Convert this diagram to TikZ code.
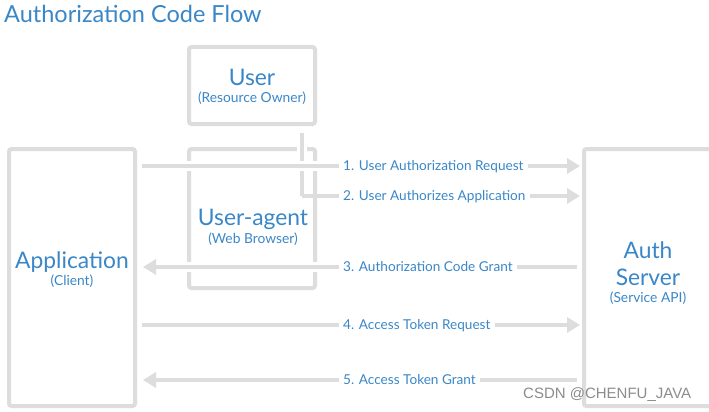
\documentclass[tikz,border=0pt]{standalone}
\usepackage{fontspec}
\setmainfont{Lato}
\newfontfamily\wmfont{Liberation Sans}
\usetikzlibrary{arrows.meta,calc}
\definecolor{linegray}{HTML}{DDDDDD}
\definecolor{txtblue}{HTML}{3A87C8}
\definecolor{wmgray}{HTML}{8C8C8C}
\begin{document}
\begin{tikzpicture}[x=1pt,y=-1pt,
  box/.style={draw=linegray, line width=4pt, rounded corners=2.5pt, inner sep=0pt, fill=none},
  conn/.style={draw=linegray, line width=4pt},
  halo/.style={preaction={draw=white, line width=10pt, arrows=-}},
  tip/.style={-{Triangle[length=13pt,width=15pt]}},
  big/.style={text=txtblue, font=\fontsize{22.8}{26}\selectfont, anchor=base, inner sep=0pt},
  small/.style={text=txtblue, font=\fontsize{13.8}{16}\selectfont, anchor=base, inner sep=0pt},
  lbl/.style={text=txtblue, font=\fontsize{13.6}{16}\selectfont, anchor=west, fill=white,
              text height=9.8pt, text depth=0pt, inner xsep=4pt, inner ysep=3pt}]
\useasboundingbox (0,0) rectangle (709,412);
\clip (0,0) rectangle (709,412);
\fill[white] (0,0) rectangle (709,412);

% title
\node[text=txtblue, font=\fontsize{23.5}{28}\selectfont, anchor=base west, inner sep=0pt] (title) at (4,23) {Authorization Code Flow};

% boxes
\node[box, minimum width=126pt, minimum height=257pt] (app) at (72,277.5) {};
\node[box, minimum width=126pt, minimum height=77pt] (user) at (252,85.5) {};
\node[box, minimum width=126pt, minimum height=139pt] (agent) at (252,218.5) {};
\node[box, minimum width=128pt, minimum height=257pt] (auth) at (648,277.5) {};

% box texts
\node[big] (usert) at (252,85) {User};
\node[small] (users) at (252,102.5) {(Resource Owner)};
\node[big] (agentt) at (253,225) {User-agent};
\node[small] (agents) at (253,243) {(Web Browser)};
\node[big] (appt) at (72,268) {Application};
\node[small] (apps) at (72,285) {(Client)};
\node[big] (autht) at (648,258) {Auth};
\node[big] (auths) at (648,285) {Server};
\node[small] (authss) at (648,302.5) {(Service API)};

% labels
\node[lbl] (l1) at (339,166) {1. User Authorization Request};
\node[lbl] (l2) at (339,196) {2. User Authorizes Application};
\node[lbl] (l3) at (339,267) {3. Authorization Code Grant};
\node[lbl] (l4) at (339,325) {4. Access Token Request};
\node[lbl] (l5) at (339,380) {5. Access Token Grant};

% user -> corner
\coordinate (ub) at ($(user.south -| 302,0)+(0,7)$);
\coordinate (uc) at (302,196);
\draw[conn, halo] (ub) -- (uc);

% 1
\draw[conn, halo] ($(app.east |- l1.west)+(5,0)$) -- (l1.west);
\draw[conn, halo, tip] (l1.east) -- ($(auth.west |- l1.east)+(-2,0)$);
% 2
\draw[conn] (uc) -- (l2.west);
\draw[conn, tip] (l2.east) -- ($(auth.west |- l2.east)+(-2,0)$);
% 3
\draw[conn, halo] ($(auth.west |- l3.east)+(-5,0)$) -- (l3.east);
\draw[conn, halo, tip] (l3.west) -- ($(app.east |- l3.west)+(6,0)$);
% 4
\draw[conn] ($(app.east |- l4.west)+(5,0)$) -- (l4.west);
\draw[conn, tip] (l4.east) -- ($(auth.west |- l4.east)+(-2,0)$);
% 5
\draw[conn] ($(auth.west |- l5.east)+(-5,0)$) -- (l5.east);
\draw[conn, tip] (l5.west) -- ($(app.east |- l5.west)+(6,0)$);

% watermark
\node[text=wmgray, font=\wmfont\fontsize{15}{17}\selectfont, anchor=base west, inner sep=0pt] (wm) at (523,398) {CSDN @CHENFU\_JAVA};
\end{tikzpicture}
\end{document}
